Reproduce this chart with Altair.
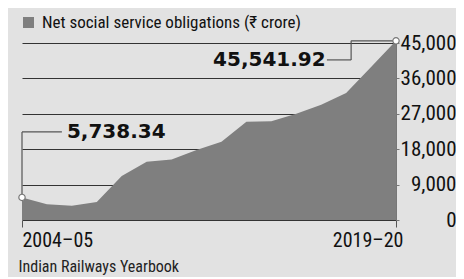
import altair as alt
import pandas as pd

years = ["2004–05", "2005–06", "2006–07", "2007–08", "2008–09", "2009–10",
         "2010–11", "2011–12", "2012–13", "2013–14", "2014–15", "2015–16",
         "2016–17", "2017–18", "2018–19", "2019–20"]
values = [5738.34, 4000, 3600, 4600, 11200, 14800, 15400, 17800, 19900,
          25000, 25100, 27000, 29300, 32300, 38900, 45541.92]
series_name = "Net social service obligations (₹ crore)"
y_ticks = [0, 9000, 18000, 27000, 36000, 45000]
source = "Indian Railways Yearbook"

NARROW = "Roboto Condensed, Roboto, sans-serif"
BOLD = "DejaVu Sans"

df = pd.DataFrame({"i": list(range(len(years))), "year": years, "v": values,
                   "series": series_name})
n = len(years) - 1

xs = alt.Scale(domain=[0, n], nice=False, zero=False)
ys = alt.Scale(domain=[0, 45000], nice=False)

x_axis = alt.Axis(
    values=[0, n], title=None, grid=False, domain=False,
    labelExpr=f"datum.value == 0 ? '{years[0]}' : '{years[-1]}'",
    labelFlush=False,
    labelAlign={"condition": {"test": "datum.value == 0", "value": "left"}, "value": "right"},
    labelOffset={"condition": {"test": "datum.value == 0", "value": 0}, "value": 7},
    labelFont=NARROW, labelFontSize=20, labelColor="#111",
    tickColor="#555", tickSize=7, labelPadding=3)
y_axis = alt.Axis(
    orient="right", values=y_ticks, format=",d", title=None,
    grid=True, gridColor="#333", gridWidth=1, domain=True, domainColor="#777",
    tickColor="#777", tickSize=3, labelAlign="right", labelPadding=57,
    labelOverlap=False, labelFont=NARROW, labelFontSize=21, labelColor="#111",
    labelBaseline="middle")

area = alt.Chart(df).mark_area(opacity=1).encode(
    x=alt.X("i:Q", scale=xs, axis=x_axis),
    y=alt.Y("v:Q", scale=ys, axis=y_axis),
    color=alt.Color("series:N", scale=alt.Scale(range=["#7f7f7f"]), legend=alt.Legend(
        orient="none", legendX=-2, legendY=-29, title=None, symbolType="square",
        symbolSize=121, symbolStrokeWidth=0, labelFont=NARROW, labelFontSize=17,
        labelLimit=0, labelColor="#111", labelOffset=5, symbolFillColor="#888")),
)

first = df.iloc[0]
last = df.iloc[-1]
lab1_y = 22400
lab2_y = 40700
x_l1 = 1.6
x_l2a = 13.2
x_l2b = 12.23
segs = pd.DataFrame({
    "x": [0, 0, x_l2a, x_l2a, x_l2b],
    "x2": [0, x_l1, n, x_l2a, x_l2a],
    "y": [first.v, lab1_y, last.v, last.v, lab2_y],
    "y2": [lab1_y, lab1_y, last.v, lab2_y, lab2_y],
})
rules = alt.Chart(segs).mark_rule(color="#555", strokeWidth=1.2).encode(
    x=alt.X("x:Q", scale=xs, axis=x_axis), x2="x2:Q",
    y=alt.Y("y:Q", scale=ys, axis=y_axis), y2="y2:Q")

ends = df.iloc[[0, n]]
pts = alt.Chart(ends).mark_point(filled=True, fill="white", stroke="#777",
                                 strokeWidth=1.2, size=40, opacity=1).encode(
    x=alt.X("i:Q", scale=xs, axis=x_axis), y=alt.Y("v:Q", scale=ys, axis=y_axis))

labels = pd.DataFrame({
    "x": [x_l1 + 0.2, x_l2b - 0.05],
    "y": [lab1_y, lab2_y],
    "t": [f"{values[0]:,.2f}", f"{values[-1]:,.2f}"],
})
t1 = alt.Chart(labels.iloc[[0]]).mark_text(
    align="left", baseline="middle", font=BOLD, fontWeight="bold",
    fontSize=20, color="#111").encode(
    x=alt.X("x:Q", scale=xs, axis=x_axis), y=alt.Y("y:Q", scale=ys, axis=y_axis), text="t:N")
t2 = alt.Chart(labels.iloc[[1]]).mark_text(
    align="right", baseline="middle", font=BOLD, fontWeight="bold",
    fontSize=20, color="#111").encode(
    x=alt.X("x:Q", scale=xs, axis=x_axis), y=alt.Y("y:Q", scale=ys, axis=y_axis), text="t:N")

chart = alt.layer(area, rules, pts, t1, t2).properties(
    width=374, height=177,
    autosize=alt.AutoSizeParams(type="none"),
    padding={"left": 14, "top": 35, "right": 60, "bottom": 57},
    background="#e2e2e2",
    title=alt.TitleParams(source, orient="bottom", anchor="start", dx=2,
                          offset=9, font=NARROW, fontSize=16, fontWeight="normal",
                          color="#222"),
).configure_view(stroke=None)

chart.save("out.html", embed_options={"renderer": "svg", "actions": False})
